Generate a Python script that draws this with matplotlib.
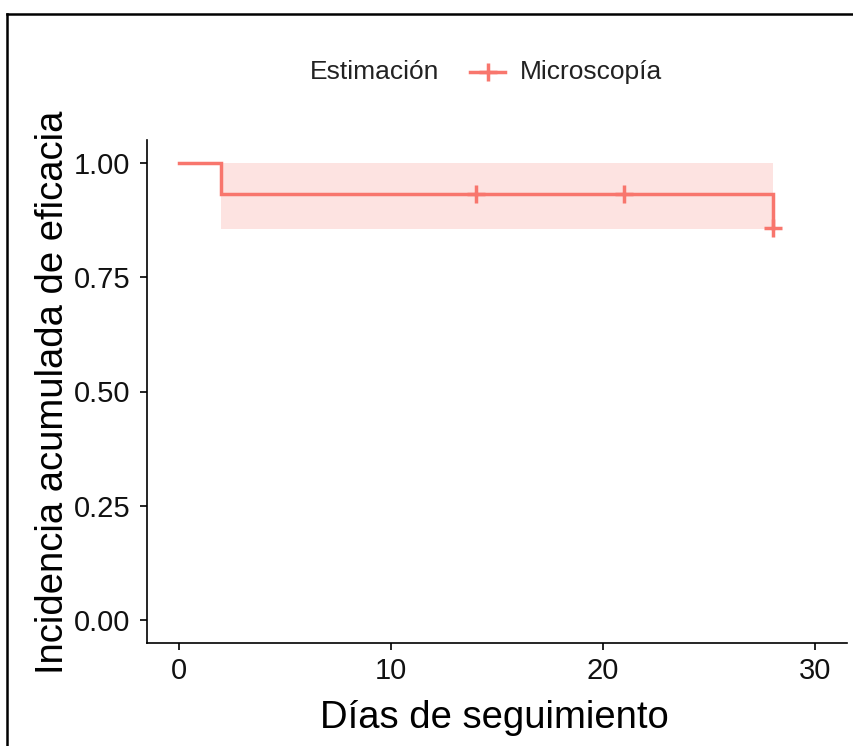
import matplotlib
matplotlib.use("Agg")
import matplotlib.pyplot as plt
from matplotlib.lines import Line2D

plt.rcParams['font.family'] = ['Liberation Sans', 'DejaVu Sans']

# Kaplan-Meier style estimate (Microscopía)
time = [0, 2, 28]
surv = [1.0, 0.933, 0.857]
band_time = [2, 28]
band_low = [0.856, 0.856]
band_high = [1.0, 1.0]
censor_time = [14, 21, 28]
censor_surv = [0.933, 0.933, 0.857]

xticks = [0, 10, 20, 30]
yticks = [0.00, 0.25, 0.50, 0.75, 1.00]
ytick_labels = ["0.00", "0.25", "0.50", "0.75", "1.00"]

col = "#F8766D"
W, H = 854, 746

fig = plt.figure(figsize=(W / 100, H / 100), dpi=100)
ax = fig.add_axes([147 / W, 1 - 643 / H, (847 - 147) / W, (643 - 140) / H])

ax.fill_between(band_time, band_low, band_high, step="post",
                color=col, alpha=0.2, linewidth=0)
ax.step(time, surv, where="post", color=col, lw=2.5, solid_joinstyle="miter")
ax.plot(censor_time, censor_surv, ls="none", marker="+", ms=13, mew=2.5, color=col)

ax.set_xlim(-1.5, 31.5)
ax.set_ylim(-0.05, 1.05)
ax.set_xticks(xticks)
ax.set_yticks(yticks)
ax.set_yticklabels(ytick_labels)
ax.tick_params(labelsize=21, length=5, width=1.2, color="black", labelcolor="#111111")
ax.tick_params(axis="x", pad=5)
ax.tick_params(axis="y", pad=7)
for s in ["top", "right"]:
    ax.spines[s].set_visible(False)
for s in ["left", "bottom"]:
    ax.spines[s].set_linewidth(1.2)

fig.text(494 / W, 1 - 718 / H, "Días de seguimiento", fontsize=27.5,
         ha="center", va="center")
fig.text(53 / W, 1 - 392 / H, "Incidencia acumulada de eficacia", fontsize=27.5,
         ha="center", va="center", rotation=90)

# legend at top
fig.text(310 / W, 1 - 72 / H, "Estimación", fontsize=19, ha="left", va="center",
         color="#222222")
fig.add_artist(Line2D([470 / W, 505 / W], [1 - 72 / H, 1 - 72 / H], color=col, lw=2.5))
fig.add_artist(Line2D([488 / W], [1 - 72 / H], color=col, marker="+", ms=13, mew=2.5))
fig.text(520 / W, 1 - 72 / H, "Microscopía", fontsize=19, ha="left", va="center",
         color="#222222")

# outer frame (only left and top visible)
fig.add_artist(Line2D([7.5 / W, 7.5 / W], [0, 1 - 13.5 / H], color="black", lw=1.8))
fig.add_artist(Line2D([7.5 / W, 1], [1 - 13.5 / H, 1 - 13.5 / H], color="black", lw=1.8))

fig.savefig("out.png", dpi=100)
